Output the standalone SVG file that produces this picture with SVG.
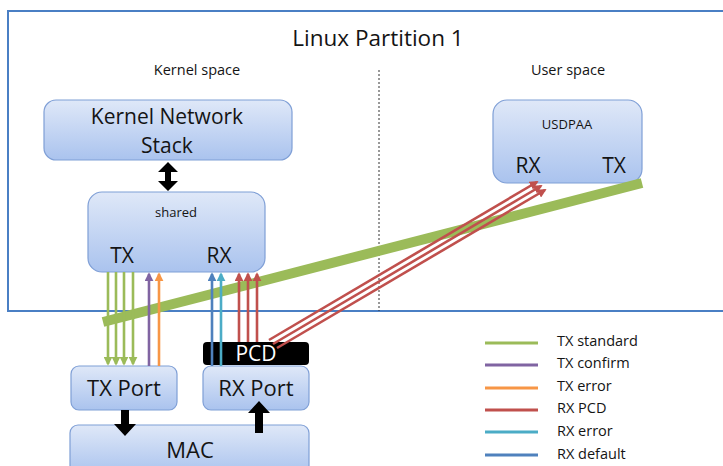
<svg xmlns="http://www.w3.org/2000/svg" width="723" height="466" viewBox="0 0 723 466">
<style>
text{font-family:"Open Sans",Lato,"Liberation Sans",sans-serif;fill:#141414}
.box{fill:url(#g);stroke:#7f9fd6;stroke-width:1.2}
.ln{fill:none;stroke-width:2.6}
.blk{fill:#000}
</style>
<defs>
<linearGradient id="g" x1="0" y1="0" x2="0" y2="1">
<stop offset="0" stop-color="#dfe8f8"/>
<stop offset="1" stop-color="#aac3ee"/>
</linearGradient>
<marker id="mG" viewBox="0 0 10 10" refX="8" refY="5" markerWidth="9" markerHeight="9" markerUnits="userSpaceOnUse" orient="auto"><path d="M0,0 L10,5 L0,10 Z" fill="#9bbb59"/></marker>
<marker id="mP" viewBox="0 0 10 10" refX="8" refY="5" markerWidth="9" markerHeight="9" markerUnits="userSpaceOnUse" orient="auto"><path d="M0,0 L10,5 L0,10 Z" fill="#8064a2"/></marker>
<marker id="mO" viewBox="0 0 10 10" refX="8" refY="5" markerWidth="9" markerHeight="9" markerUnits="userSpaceOnUse" orient="auto"><path d="M0,0 L10,5 L0,10 Z" fill="#f79646"/></marker>
<marker id="mR" viewBox="0 0 10 10" refX="8" refY="5" markerWidth="9" markerHeight="9" markerUnits="userSpaceOnUse" orient="auto"><path d="M0,0 L10,5 L0,10 Z" fill="#c0504d"/></marker>
<marker id="mC" viewBox="0 0 10 10" refX="8" refY="5" markerWidth="9" markerHeight="9" markerUnits="userSpaceOnUse" orient="auto"><path d="M0,0 L10,5 L0,10 Z" fill="#4bacc6"/></marker>
<marker id="mB" viewBox="0 0 10 10" refX="8" refY="5" markerWidth="9" markerHeight="9" markerUnits="userSpaceOnUse" orient="auto"><path d="M0,0 L10,5 L0,10 Z" fill="#4f81bd"/></marker>
</defs>
<rect width="723" height="466" fill="#fff"/>

<g id="partition">
<rect x="8" y="11" width="716" height="300" fill="#fff" stroke="#4a7fc4" stroke-width="2"/>
<text x="378" y="46" font-size="22.5" text-anchor="middle">Linux Partition 1</text>
<text x="197" y="75" font-size="14.5" text-anchor="middle">Kernel space</text>
<text x="568" y="75" font-size="14.5" text-anchor="middle">User space</text>
<line x1="379" y1="70" x2="379" y2="311" stroke="#333" stroke-width="1" stroke-dasharray="2,2"/>
</g>

<g id="kns">
<rect class="box" x="44" y="100" width="248" height="60" rx="12"/>
<text x="167" y="124" font-size="21" text-anchor="middle">Kernel Network</text>
<text x="167" y="153" font-size="21" text-anchor="middle">Stack</text>
</g>

<g id="shared">
<rect class="box" x="88" y="192" width="177" height="80" rx="14"/>
<text x="176" y="217" font-size="13" text-anchor="middle">shared</text>
<text x="122" y="263" font-size="21" text-anchor="middle">TX</text>
<text x="219" y="263" font-size="21" text-anchor="middle">RX</text>
</g>

<g id="usdpaa">
<rect class="box" x="493" y="100" width="149" height="83" rx="14"/>
<text x="567" y="129" font-size="13" text-anchor="middle">USDPAA</text>
<text x="528" y="173" font-size="21" text-anchor="middle">RX</text>
<text x="614" y="173" font-size="21" text-anchor="middle">TX</text>
</g>

<g id="txport">
<rect class="box" x="71" y="366" width="106" height="44" rx="8"/>
<text x="124" y="396" font-size="22" text-anchor="middle">TX Port</text>
</g>

<g id="rxport">
<rect class="box" x="203" y="366" width="106" height="44" rx="8"/>
<text x="256" y="396" font-size="22" text-anchor="middle">RX Port</text>
</g>

<g id="mac">
<rect class="box" x="70" y="425" width="239" height="50" rx="8"/>
<text x="190" y="458" font-size="22" text-anchor="middle">MAC</text>
</g>

<g id="pcd">
<rect x="203" y="342" width="106" height="23" rx="4" fill="#000"/>
<text x="256" y="361" font-size="21" text-anchor="middle" style="fill:#fff">PCD</text>
</g>

<g id="connectors">
<line x1="103" y1="322" x2="642" y2="183" stroke="#9bbb59" stroke-width="10"/>
<line class="ln" x1="108" y1="272" x2="108" y2="364" stroke="#9bbb59" marker-end="url(#mG)"/>
<line class="ln" x1="116" y1="272" x2="116" y2="364" stroke="#9bbb59" marker-end="url(#mG)"/>
<line class="ln" x1="124" y1="272" x2="124" y2="364" stroke="#9bbb59" marker-end="url(#mG)"/>
<line class="ln" x1="133" y1="272" x2="133" y2="364" stroke="#9bbb59" marker-end="url(#mG)"/>
<line class="ln" x1="149" y1="366" x2="149" y2="274" stroke="#8064a2" marker-end="url(#mP)"/>
<line class="ln" x1="159" y1="366" x2="159" y2="274" stroke="#f79646" marker-end="url(#mO)"/>
<line class="ln" x1="212" y1="366" x2="212" y2="274" stroke="#4f81bd" marker-end="url(#mB)"/>
<line class="ln" x1="221" y1="366" x2="221" y2="274" stroke="#4bacc6" marker-end="url(#mC)"/>
<line class="ln" x1="239" y1="342" x2="239" y2="274" stroke="#c0504d" marker-end="url(#mR)"/>
<line class="ln" x1="248" y1="342" x2="248" y2="274" stroke="#c0504d" marker-end="url(#mR)"/>
<line class="ln" x1="257" y1="342" x2="257" y2="274" stroke="#c0504d" marker-end="url(#mR)"/>
<line class="ln" x1="269" y1="340" x2="537" y2="182" stroke="#c0504d" marker-end="url(#mR)"/>
<line class="ln" x1="273" y1="344" x2="541" y2="186" stroke="#c0504d" marker-end="url(#mR)"/>
<line class="ln" x1="277" y1="348" x2="545" y2="190" stroke="#c0504d" marker-end="url(#mR)"/>
<polygon class="blk" points="168,162 178,172 171,172 171,181 178,181 168,191 158,181 165,181 165,172 158,172"/>
<polygon class="blk" points="121,410 129,410 129,424 136,424 125,436 114,424 121,424"/>
<polygon class="blk" points="259,401 270,413 263,413 263,433 255,433 255,413 248,413"/>
</g>

<g id="legend">
<line x1="485" y1="343" x2="538" y2="343" stroke="#9bbb59" stroke-width="3"/>
<line x1="485" y1="365" x2="538" y2="365" stroke="#8064a2" stroke-width="3"/>
<line x1="485" y1="388" x2="538" y2="388" stroke="#f79646" stroke-width="3"/>
<line x1="485" y1="410" x2="538" y2="410" stroke="#c0504d" stroke-width="3"/>
<line x1="485" y1="432" x2="538" y2="432" stroke="#4bacc6" stroke-width="3"/>
<line x1="485" y1="455" x2="538" y2="455" stroke="#4f81bd" stroke-width="3"/>
<text x="557" y="346" font-size="14.5">TX standard</text>
<text x="557" y="368" font-size="14.5">TX confirm</text>
<text x="557" y="391" font-size="14.5">TX error</text>
<text x="557" y="413" font-size="14.5">RX PCD</text>
<text x="557" y="436" font-size="14.5">RX error</text>
<text x="557" y="459" font-size="14.5">RX default</text>
</g>
</svg>
